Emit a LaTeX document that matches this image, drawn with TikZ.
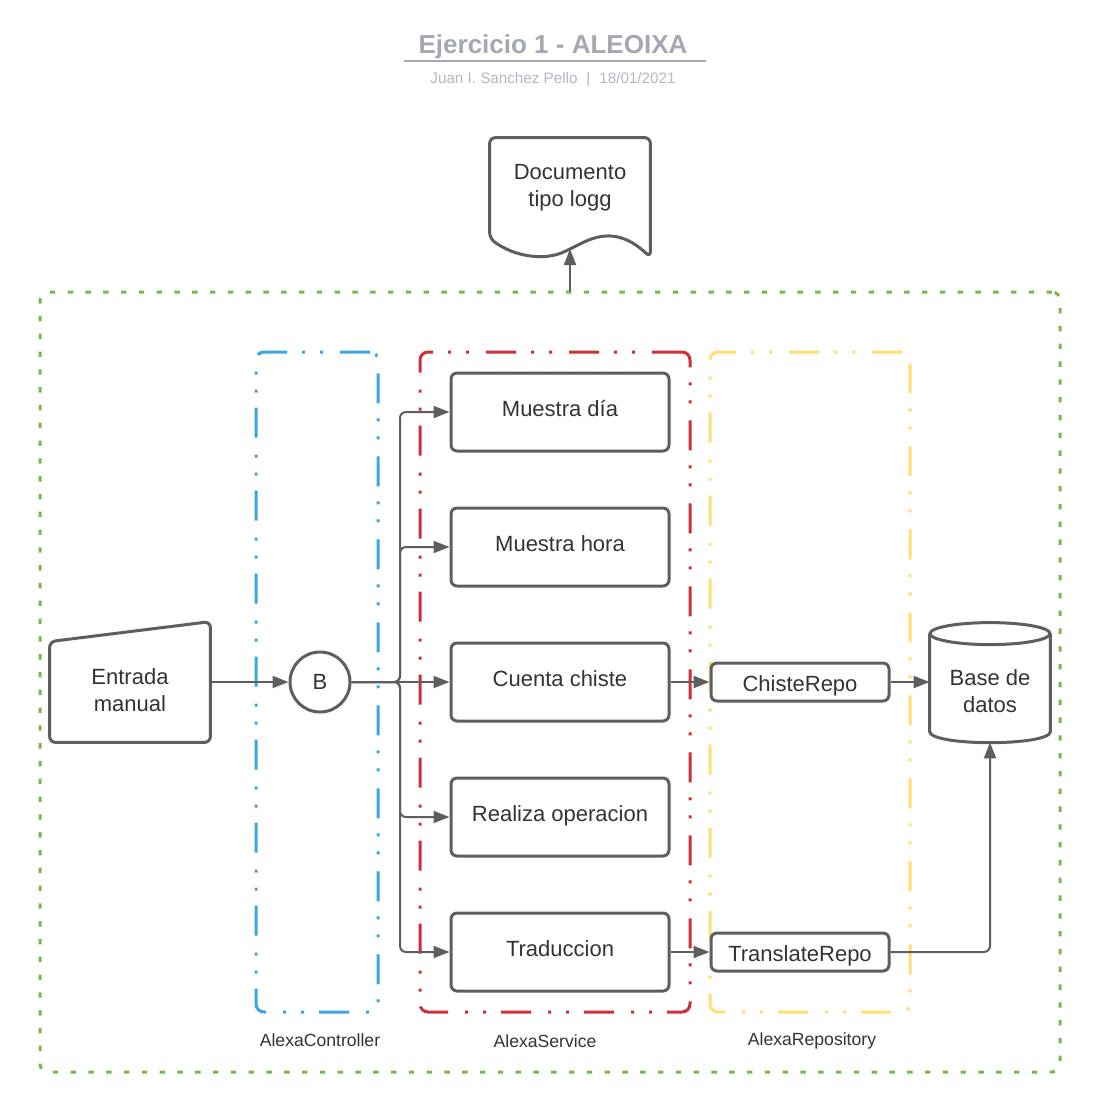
\documentclass[tikz,border=0pt]{standalone}
\usepackage{fontspec}
\setmainfont{Liberation Sans}
\usepackage{xcolor}
\usepackage{tikz}
\usetikzlibrary{shapes, arrows, arrows.meta, calc, fit}
\definecolor{lineGray}{HTML}{5E5E5E}
\definecolor{textGray}{HTML}{333333}
\definecolor{titleGray}{HTML}{A3A8B3}
\definecolor{subGray}{HTML}{B3B7BF}
\definecolor{ctrlBlue}{HTML}{3AA6DD}
\definecolor{servRed}{HTML}{CC2E3A}
\definecolor{repoYellow}{HTML}{FFDF71}
\definecolor{appGreen}{HTML}{7AB648}
\newcommand{\nodefont}{\fontsize{11}{13.5}\selectfont}
\tikzstyle{service} = [rectangle, draw=lineGray, line width=1.5pt, rounded corners=3pt,
    text=textGray, font=\nodefont, minimum width=109pt, minimum height=39pt,
    text height=0.7em, text depth=0.3em]
\tikzstyle{repo} = [rectangle, draw=lineGray, line width=1.5pt, rounded corners=3pt,
    text=textGray, font=\nodefont, minimum width=89pt, minimum height=19pt,
    text height=0.9em, text depth=0pt]
\tikzstyle{layer} = [rectangle, line width=1.5pt, rounded corners=4pt, minimum height=330pt,
    dash pattern=on 15pt off 8.5pt on 1.5pt off 7.5pt on 1.5pt off 7.5pt]
\tikzstyle{line} = [draw=lineGray, line width=1pt, -{Triangle[length=8pt, width=6pt]}]

\begin{document}
\begin{tikzpicture}[x=0.5pt, y=-0.5pt, node distance=67.5pt, auto,
    outline/.style={draw=lineGray, line width=1.5pt, rounded corners=3pt},
    caption/.style={text=textGray, font=\fontsize{8.8}{10}\selectfont},
    shapeText/.style={text=textGray, font=\nodefont, align=center}
    ]
    \useasboundingbox (0,0) rectangle (1113,1109);

    % Header
    \node [text=titleGray, font=\bfseries\fontsize{13}{15}\selectfont] (title) at (553,47) {Ejercicio 1 - ALEOIXA};
    \draw [titleGray, line width=1pt] (404,61) -- (706,61);
    \node [text=subGray, font=\fontsize{7.6}{9}\selectfont] (author) at (553,80)
          {Juan I. Sanchez Pello\hspace{4.5pt}|\hspace{4.5pt}18/01/2021};

    % Layers
    \node [draw=appGreen, line width=1.5pt, rounded corners=4pt, dash pattern=on 2.7pt off 6.2pt,
           minimum width=510pt, minimum height=390pt] (app) at (550,682) {};
    \node [layer, draw=ctrlBlue, minimum width=61pt] (controller) at (317,682) {};
    \node [layer, draw=servRed, minimum width=135pt] (service) at (555,682) {};
    \node [layer, draw=repoYellow, minimum width=100pt] (repository) at (810,682) {};
    \node [caption, below of=controller, node distance=179pt, xshift=1.5pt] (controllerLabel) {AlexaController};
    \node [caption, below of=service, node distance=179.5pt, xshift=-5pt] (serviceLabel) {AlexaService};
    \node [caption, below of=repository, node distance=179.5pt, xshift=1pt] (repositoryLabel) {AlexaRepository};

    % Nodes
    \node [service] (cuenta) at (560,682) {Cuenta chiste};
    \node [service, above of=cuenta] (hora) {Muestra hora};
    \node [service, above of=hora] (dia) {Muestra día};
    \node [service, below of=cuenta] (realiza) {Realiza operacion};
    \node [service, below of=realiza] (traduccion) {Traduccion};
    \node [repo, right of=cuenta, node distance=120pt] (chisteRepo) {ChisteRepo};
    \node [repo, right of=traduccion, node distance=120pt] (translateRepo) {TranslateRepo};
    \node [circle, draw=lineGray, line width=1.5pt, minimum size=30pt, text=textGray,
           font=\nodefont] (b) at (320,682) {B};

    % Manual input
    \node [minimum width=80pt, minimum height=60pt, left of=b, node distance=95pt] (entrada) {};
    \draw [outline] (entrada.south west) -- ($(entrada.north west)+(0,20)$) --
          (entrada.north east) -- (entrada.south east) -- cycle;
    \node [shapeText] (entradaText) at ($(entrada.center)+(0,8)$) {Entrada\\manual};

    % Database
    \node [minimum width=60pt, minimum height=60pt, right of=chisteRepo, node distance=95pt] (db) {};
    \draw [outline, rounded corners=0pt] ($(db.north west)+(0,12)$) -- ($(db.south west)+(0,-11)$)
          .. controls ($(db.south west)+(0,4)$) and ($(db.south east)+(0,4)$) ..
          ($(db.south east)+(0,-11)$) -- ($(db.north east)+(0,12)$);
    \draw [lineGray, line width=1.5pt] ($(db.north)+(0,12)$) ellipse [x radius=30pt, y radius=5.5pt];
    \node [shapeText] (dbText) at ($(db.center)+(0,9)$) {Base de\\datos};

    % Log document
    \node [shapeText, minimum width=80pt, minimum height=50pt] (doc) at (570,188) {Documento\\tipo logg};
    \draw [outline] ($(doc.south east)+(0,19)$) .. controls (615,224) and (590,239) .. (570,249)
          .. controls (545,261) and (515,257) .. (doc.south west) --
          (doc.north west) -- (doc.north east) -- cycle;
    \coordinate (logIn) at (570,249);

    % Edges
    \coordinate (bus) at (400,682);
    \path [line] (entrada) -- (b);
    \path [line] (b) -- (cuenta);
    \path [line, rounded corners=3pt] (b.east) -- (bus) |- (dia);
    \path [line, rounded corners=3pt] (b.east) -- (bus) |- (hora);
    \path [line, rounded corners=3pt] (b.east) -- (bus) |- (realiza);
    \path [line, rounded corners=3pt] (b.east) -- (bus) |- (traduccion);
    \path [line] (cuenta) -- (chisteRepo);
    \path [line] (chisteRepo) -- (chisteRepo -| db.west);
    \path [line] (traduccion) -- (translateRepo);
    \path [line, rounded corners=3pt] (translateRepo) -| (db.south);
    \path [line] (logIn |- app.north) -- (logIn);
\end{tikzpicture}
\end{document}
